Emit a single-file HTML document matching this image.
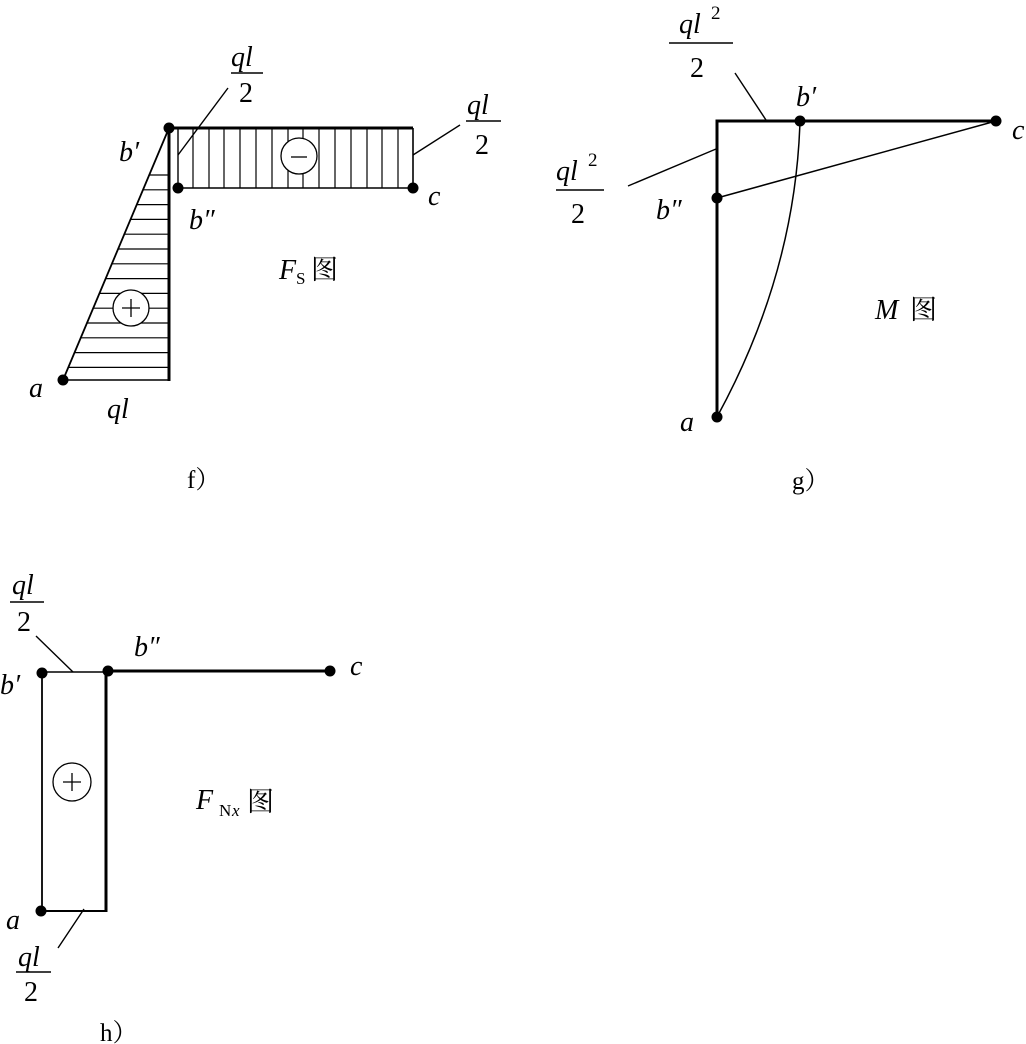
<!DOCTYPE html>
<html><head><meta charset="utf-8"><style>
html,body{margin:0;padding:0;background:#fff;}
svg{display:block;}
text{font-family:"Liberation Serif","Noto Serif CJK SC",serif;fill:#000;}
.i{font-style:italic;}
</style></head><body>
<svg width="1026" height="1044" viewBox="0 0 1026 1044" xmlns="http://www.w3.org/2000/svg">
<g stroke="#000" fill="none">
<g stroke-width="1.2">
<line x1="149.2" y1="175" x2="169" y2="175"/><line x1="143" y1="189.8" x2="169" y2="189.8"/>
<line x1="136.8" y1="204.6" x2="169" y2="204.6"/><line x1="130.5" y1="219.4" x2="169" y2="219.4"/>
<line x1="124.3" y1="234.2" x2="169" y2="234.2"/><line x1="118.1" y1="249" x2="169" y2="249"/>
<line x1="111.9" y1="263.8" x2="169" y2="263.8"/><line x1="105.7" y1="278.6" x2="169" y2="278.6"/>
<line x1="99.5" y1="293.4" x2="169" y2="293.4"/><line x1="93.2" y1="308.2" x2="169" y2="308.2"/>
<line x1="87" y1="323" x2="169" y2="323"/><line x1="80.8" y1="337.8" x2="169" y2="337.8"/>
<line x1="74.5" y1="352.6" x2="169" y2="352.6"/><line x1="68.3" y1="367.4" x2="169" y2="367.4"/>
<line x1="193" y1="128" x2="193" y2="188"/><line x1="209" y1="128" x2="209" y2="188"/>
<line x1="224" y1="128" x2="224" y2="188"/><line x1="240" y1="128" x2="240" y2="188"/>
<line x1="256" y1="128" x2="256" y2="188"/><line x1="272" y1="128" x2="272" y2="188"/>
<line x1="288" y1="128" x2="288" y2="188"/><line x1="303" y1="128" x2="303" y2="188"/>
<line x1="319" y1="128" x2="319" y2="188"/><line x1="335" y1="128" x2="335" y2="188"/>
<line x1="351" y1="128" x2="351" y2="188"/><line x1="367" y1="128" x2="367" y2="188"/>
<line x1="382" y1="128" x2="382" y2="188"/><line x1="398" y1="128" x2="398" y2="188"/>
</g>
<line x1="63" y1="380" x2="169" y2="128" stroke-width="1.8"/>
<line x1="63" y1="380" x2="169" y2="380" stroke-width="1.6"/>
<line x1="169" y1="128" x2="169" y2="381" stroke-width="3"/>
<line x1="169" y1="128" x2="413" y2="128" stroke-width="3"/>
<line x1="178" y1="128" x2="178" y2="188" stroke-width="1.4"/>
<line x1="178" y1="188" x2="413" y2="188" stroke-width="1.6"/>
<line x1="413" y1="128" x2="413" y2="188" stroke-width="1.6"/>
<circle cx="131" cy="308" r="18" fill="#fff" stroke-width="1.3"/>
<line x1="122" y1="308" x2="140" y2="308" stroke-width="1.3"/><line x1="131" y1="299" x2="131" y2="317" stroke-width="1.3"/>
<circle cx="299" cy="156" r="18" fill="#fff" stroke-width="1.3"/>
<line x1="291" y1="157" x2="307" y2="157" stroke-width="1.3"/>
<line x1="178" y1="155" x2="228" y2="88" stroke-width="1.4"/>
<line x1="413" y1="155" x2="460" y2="125" stroke-width="1.4"/>
<line x1="231" y1="73" x2="263" y2="73" stroke-width="1.4"/>
<line x1="466" y1="121" x2="501" y2="121" stroke-width="1.4"/>

<path d="M717 417 L717 121 L996 121" stroke-width="3"/>
<line x1="717" y1="198" x2="996" y2="121" stroke-width="1.5"/>
<path d="M800 121 C797 220 770 320 717 417" stroke-width="1.5"/>
<line x1="735" y1="73" x2="766" y2="120" stroke-width="1.4"/>
<line x1="628" y1="186" x2="716" y2="149" stroke-width="1.4"/>
<line x1="669" y1="43" x2="733" y2="43" stroke-width="1.4"/>
<line x1="556" y1="190" x2="604" y2="190" stroke-width="1.4"/>

<line x1="42" y1="673" x2="42" y2="911" stroke-width="1.8"/>
<line x1="42" y1="672" x2="107" y2="672" stroke-width="1.4"/>
<line x1="42" y1="911" x2="107" y2="911" stroke-width="2"/>
<line x1="106" y1="671" x2="106" y2="912" stroke-width="3"/>
<line x1="107" y1="671" x2="330" y2="671" stroke-width="3"/>
<circle cx="72" cy="782" r="19" stroke-width="1.3"/>
<line x1="63" y1="782" x2="81" y2="782" stroke-width="1.3"/><line x1="72" y1="773" x2="72" y2="791" stroke-width="1.3"/>
<line x1="36" y1="636" x2="73" y2="672" stroke-width="1.4"/>
<line x1="84" y1="909" x2="58" y2="948" stroke-width="1.4"/>
<line x1="10" y1="602" x2="44" y2="602" stroke-width="1.4"/>
<line x1="16" y1="972" x2="51" y2="972" stroke-width="1.4"/>
</g>
<g fill="#000">
<circle cx="169" cy="128" r="5.5"/><circle cx="178" cy="188" r="5.5"/><circle cx="413" cy="188" r="5.5"/><circle cx="63" cy="380" r="5.5"/>
<circle cx="800" cy="121" r="5.5"/><circle cx="996" cy="121" r="5.5"/><circle cx="717" cy="198" r="5.5"/><circle cx="717" cy="417" r="5.5"/>
<circle cx="42" cy="673" r="5.5"/><circle cx="108" cy="671" r="5.5"/><circle cx="330" cy="671" r="5.5"/><circle cx="41" cy="911" r="5.5"/>
</g>
<g font-size="28">
<text x="231" y="66" class="i">ql</text><text x="239" y="102">2</text>
<text x="467" y="114" class="i">ql</text><text x="475" y="154">2</text>
<text x="119" y="161" class="i">b′</text>
<text x="189" y="229" class="i">b″</text>
<text x="428" y="205" class="i">c</text>
<text x="29" y="397" class="i">a</text>
<text x="107" y="418" class="i">ql</text>
<text x="279" y="279" class="i">F</text><text x="296" y="284" font-size="17">S</text><text x="311" y="279" font-size="27">图</text>
<text x="187" y="488" font-size="25">f）</text>
<text x="679" y="33" class="i">ql</text><text x="711" y="19" font-size="19">2</text><text x="690" y="77">2</text>
<text x="556" y="180" class="i">ql</text><text x="588" y="166" font-size="19">2</text><text x="571" y="223">2</text>
<text x="796" y="106" class="i">b′</text>
<text x="656" y="219" class="i">b″</text>
<text x="1012" y="139" class="i">c</text>
<text x="680" y="431" class="i">a</text>
<text x="875" y="319" class="i">M</text><text x="910" y="319" font-size="27">图</text>
<text x="792" y="489" font-size="25">g）</text>
<text x="12" y="594" class="i">ql</text><text x="17" y="631">2</text>
<text x="134" y="656" class="i">b″</text>
<text x="350" y="675" class="i">c</text>
<text x="0" y="694" class="i">b′</text>
<text x="6" y="929" class="i">a</text>
<text x="18" y="966" class="i">ql</text><text x="24" y="1001">2</text>
<text x="196" y="809" class="i">F</text><text x="219" y="816" font-size="17">N</text><text x="232" y="816" font-size="17" class="i">x</text><text x="247" y="811" font-size="27">图</text>
<text x="100" y="1041" font-size="25">h）</text>
</g>
</svg>
</body></html>
